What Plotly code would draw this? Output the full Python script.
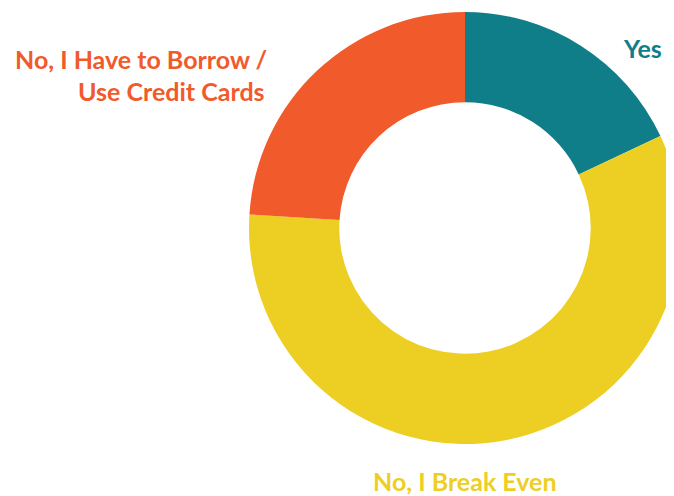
import plotly.graph_objects as go

labels = ["Yes", "No, I Break Even", "No, I Have to Borrow / Use Credit Cards"]
values = [18, 58, 24]
colors = ["#0F7E89", "#EDCF24", "#F15A2B"]

W, H = 674, 496
OFF = 8  # page body margin offset
cx, cy, r = 465 - OFF, 228 - OFF, 216


def px(x):
    return (x - OFF) / W


def py(y):
    return 1 - (y - OFF) / H


fig = go.Figure(go.Pie(
    labels=labels, values=values, sort=False, direction="clockwise", rotation=0,
    hole=0.582, marker=dict(colors=colors, line=dict(width=0)),
    textinfo="none", showlegend=False,
    domain=dict(x=[(cx - r) / W, min(1, (cx + r) / W)], y=[1 - (cy + r) / H, 1 - (cy - r) / H]),
))

font = "Lato, 'Open Sans', sans-serif"
ann = [
    dict(text="<b>No, I Have to Borrow /</b>", x=px(268), y=py(59), xanchor="right", color=colors[2]),
    dict(text="<b>Use Credit Cards</b>", x=px(266), y=py(91), xanchor="right", color=colors[2]),
    dict(text="<b>Yes</b>", x=px(663), y=py(48), xanchor="right", color=colors[0]),
    dict(text="<b>No, I Break Even</b>", x=px(465), y=py(481), xanchor="center", color=colors[1]),
]
annotations = []
for a in ann:
    annotations.append(dict(text=a["text"], x=a["x"], y=a["y"], xref="paper", yref="paper",
                            xanchor=a["xanchor"], yanchor="middle", showarrow=False, borderpad=0,
                            font=dict(family=font, size=25, color=a["color"])))

fig.update_layout(width=W, height=H, margin=dict(l=0, r=0, t=0, b=0),
                  paper_bgcolor="white", plot_bgcolor="white", annotations=annotations)
fig.write_html("out.html",
               post_script="document.documentElement.style.overflow='hidden';document.body.style.overflow='hidden';")
